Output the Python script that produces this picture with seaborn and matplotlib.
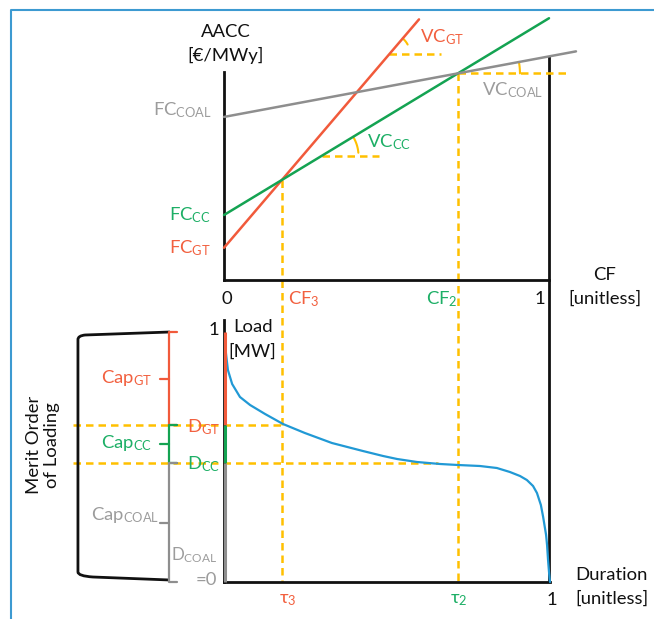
import numpy as np
import pandas as pd
import matplotlib
matplotlib.use("Agg")
import matplotlib.pyplot as plt
import seaborn as sns
from matplotlib.path import Path
from matplotlib.patches import PathPatch
from matplotlib.lines import Line2D

# ---------------- data ----------------
technologies = ["GT", "CC", "COAL"]
fixed_cost = [0.155, 0.3125, 0.784]      # AACC intercept (normalised units)
variable_cost = [1.83, 0.946, 0.291]      # slope of AACC vs CF
line_end_cf = [0.60, 1.00, 1.083]
vc_anchor_cf = [0.508, 0.30]              # where the VC triangles of GT and CC sit
vc_dash_len = [0.16, 0.178, 0.345]
vc_arc_radius_px = [21, 37, 62]
vc_arc_start_deg = [28, 5, 0]

ldc_duration = [0.004, 0.006, 0.012, 0.025, 0.049, 0.080, 0.126, 0.181, 0.248,
                0.331, 0.426, 0.488, 0.531, 0.592, 0.663, 0.718, 0.785, 0.837,
                0.877, 0.908, 0.929, 0.948, 0.960, 0.972, 0.979, 0.988, 0.991,
                0.994, 0.997, 1.000]
ldc_load = [0.952, 0.915, 0.848, 0.792, 0.740, 0.708, 0.672, 0.632, 0.596,
            0.556, 0.524, 0.504, 0.492, 0.480, 0.472, 0.468, 0.464, 0.456,
            0.440, 0.424, 0.408, 0.384, 0.356, 0.308, 0.260, 0.188, 0.148,
            0.088, 0.040, 0.000]
D_GT = 0.628
D_CC = 0.476

# ---------------- style ----------------
W, H = 654, 619
sns.set_style("white")
plt.rcParams["font.family"] = ["Lato", "DejaVu Sans"]
plt.rcParams["mathtext.default"] = "regular"
FS = 13.3

RED = "#F15A3B"
GREEN = "#14A352"
GREY = "#8E8E8E"
RED_T = "#F2603F"
GREEN_T = "#1DAF66"
GREY_T = "#9C9C9C"
ORANGE = "#FFC000"
BLUE = "#2199D5"
LINE_COLORS = [RED, GREEN, GREY]
DASH = (0, (3, 2))
LW = 1.8

fig = plt.figure(figsize=(W / 100, H / 100), dpi=100)
ax_top = fig.add_axes([224 / W, (H - 280) / H, 325 / W, 208 / H])
ax_bot = fig.add_axes([224 / W, (H - 582) / H, 326 / W, 262 / H])
ax_top.set_xlim(0, 1); ax_top.set_ylim(0, 1)
ax_bot.set_xlim(0, 1); ax_bot.set_ylim(0, 262 / 250)
for ax in (ax_top, ax_bot):
    ax.set_xticks([]); ax.set_yticks([])
    ax.patch.set_alpha(0)
    for s in ("top", "right"):
        ax.spines[s].set_visible(False)
    for s in ("left", "bottom"):
        ax.spines[s].set_color("#111111")
        ax.spines[s].set_linewidth(2.0)

# ---------------- top panel: AACC lines ----------------
fc = dict(zip(technologies, fixed_cost))
vc = dict(zip(technologies, variable_cost))
CF3 = (fc["CC"] - fc["GT"]) / (vc["GT"] - vc["CC"])
CF2 = (fc["COAL"] - fc["CC"]) / (vc["CC"] - vc["COAL"])
aacc3 = fc["CC"] + vc["CC"] * CF3
aacc2 = fc["CC"] + vc["CC"] * CF2

rows = []
for t, f, v, e in zip(technologies, fixed_cost, variable_cost, line_end_cf):
    for cf in (0.0, e):
        rows.append({"tech": t, "CF": cf, "AACC": f + v * cf})
df_lines = pd.DataFrame(rows)
sns.lineplot(data=df_lines, x="CF", y="AACC", hue="tech", palette=dict(zip(technologies, LINE_COLORS)),
             hue_order=technologies, ax=ax_top, lw=LW, legend=False, estimator=None,
             clip_on=False, zorder=3)

# y of bottom-panel zero expressed in top-panel data coords
fig.canvas.draw()
y_bottom_in_top = ax_top.transData.inverted().transform(ax_bot.transData.transform((0, 0)))[1]

# right border at CF = 1
ax_top.plot([1, 1], [fc["COAL"] + vc["COAL"], y_bottom_in_top], color="#111111", lw=2.0,
            clip_on=False, zorder=2, solid_capstyle="butt")
# vertical dashed lines CF3 / CF2 through both panels
ax_top.plot([CF3, CF3], [aacc3, y_bottom_in_top], color=ORANGE, lw=LW, ls=DASH, clip_on=False, zorder=1)
ax_top.plot([CF2, CF2], [aacc2, y_bottom_in_top], color=ORANGE, lw=LW, ls=DASH, clip_on=False, zorder=1)

# VC triangles (horizontal dash + arc)
sx = ax_top.bbox.width / 1.0
sy = ax_top.bbox.height / 1.0
anchors = [(vc_anchor_cf[0], fc["GT"] + vc["GT"] * vc_anchor_cf[0]),
           (vc_anchor_cf[1], fc["CC"] + vc["CC"] * vc_anchor_cf[1]),
           (CF2, aacc2)]
for (x0, y0), t, L, r, a0 in zip(anchors, technologies, vc_dash_len, vc_arc_radius_px, vc_arc_start_deg):
    ax_top.plot([x0, x0 + L], [y0, y0], color=ORANGE, lw=LW, ls=DASH, clip_on=False, zorder=2)
    theta = np.degrees(np.arctan(vc[t] * sy / sx))
    ang = np.radians(np.linspace(a0, theta, 30))
    ax_top.plot(x0 + r * np.cos(ang) / sx, y0 + r * np.sin(ang) / sy, color=ORANGE, lw=1.5,
                clip_on=False, zorder=2)

# ---------------- bottom panel: load duration curve ----------------
df_ldc = pd.DataFrame({"duration": ldc_duration, "load": ldc_load})
sns.lineplot(data=df_ldc, x="duration", y="load", color=BLUE, lw=1.6, ax=ax_bot,
             estimator=None, sort=False, clip_on=False, zorder=3)

# horizontal dashed at demand levels
BX_DASH0 = -0.463
ax_bot.plot([BX_DASH0, CF3], [D_GT, D_GT], color=ORANGE, lw=LW, ls=DASH, clip_on=False, zorder=1)
ax_bot.plot([BX_DASH0, 0.656], [D_CC, D_CC], color=ORANGE, lw=LW, ls=DASH, clip_on=False, zorder=1)

# coloured overlay on load axis
segs = [(1.0, D_GT, RED), (D_GT, D_CC, GREEN), (D_CC, 0.0, GREY)]
for top, bot, c in segs:
    ax_bot.plot([0.004, 0.004], [top, bot], color=c, lw=2.2, clip_on=False, zorder=4,
                solid_capstyle="butt")

# merit-order bracket
BX = -0.170
BX_TICK_R = -0.144
BX_TICK_L = -0.196
for top, bot, c in segs:
    ax_bot.plot([BX, BX], [top, bot], color=c, lw=1.6, clip_on=False, solid_capstyle="butt")
    ax_bot.plot([BX, BX_TICK_R], [top, top], color=c, lw=1.6, clip_on=False)
    ax_bot.plot([BX, BX_TICK_R], [bot, bot], color=c, lw=1.6, clip_on=False)
    mid = (top + bot) / 2
    ax_bot.plot([BX_TICK_L, BX], [mid, mid], color=c, lw=1.6, clip_on=False)

BL = -0.448
verts = [(-0.166, 1.0), (-0.426, 0.988), (BL, 0.985), (BL, 0.970),
         (BL, 0.040), (BL, 0.024), (-0.402, 0.020), (-0.166, 0.008)]
codes = [Path.MOVETO, Path.LINETO, Path.CURVE3, Path.CURVE3,
         Path.LINETO, Path.CURVE3, Path.CURVE3, Path.LINETO]
ax_bot.add_patch(PathPatch(Path(verts, codes), fill=False, ec="#111111", lw=2.0, clip_on=False))

# ---------------- texts ----------------
def T(x, y, s, color="#111111", ha="left", va="baseline", fs=FS, **kw):
    fig.text(x / W, 1 - y / H, s, color=color, ha=ha, va=va, fontsize=fs, **kw)

T(226, 37, "AACC", ha="center")
T(226, 61, "[€/MWy]", ha="center")
T(212, 115, r"FC$_\mathregular{COAL}$", GREY_T, ha="right")
T(211, 220, r"FC$_\mathregular{CC}$", GREEN_T, ha="right")
T(211, 253, r"FC$_\mathregular{GT}$", RED_T, ha="right")
T(227, 304, "0", ha="center")
T(288, 304, r"CF$_\mathregular{3}$", RED_T)
T(426, 304, r"CF$_\mathregular{2}$", GREEN_T)
T(540, 304, "1", ha="center")
T(605, 280, "CF", ha="center")
T(605, 304, "[unitless]", ha="center")
T(420, 42, r"VC$_\mathregular{GT}$", RED_T)
T(482, 95, r"VC$_\mathregular{COAL}$", GREY_T)
T(367, 147, r"VC$_\mathregular{CC}$", GREEN_T)

T(253, 332, "Load", ha="center")
T(252, 357, "[MW]", ha="center")
T(214, 335, "1", ha="center")
T(152, 383, r"Cap$_\mathregular{GT}$", RED_T, ha="right")
T(152, 448, r"Cap$_\mathregular{CC}$", GREEN_T, ha="right")
T(159, 520, r"Cap$_\mathregular{COAL}$", GREY_T, ha="right")
T(187, 432, r"D$_\mathregular{GT}$", RED_T)
T(187, 469, r"D$_\mathregular{CC}$", GREEN_T)
T(217, 560, r"D$_\mathregular{COAL}$", GREY_T, ha="right", fs=12.2)
T(217, 585, "=0", GREY_T, ha="right")
fig.text(43 / W, 1 - 445 / H, "Merit Order\nof Loading", rotation=90, ha="center", va="center",
         multialignment="center", fontsize=FS, color="#111111")
T(279, 603, r"τ$_\mathregular{3}$", RED_T)
T(450, 603, r"τ$_\mathregular{2}$", GREEN_T)
T(552, 605, "1", ha="center")
T(611, 580, "Duration", ha="center")
T(612, 604, "[unitless]", ha="center")

# frame lines of the original slide
fig.add_artist(Line2D([11 / W, 11 / W, 1.0], [0.0, 1 - 10 / H, 1 - 10 / H], color="#3D9AD1",
                      lw=1.5, transform=fig.transFigure))

fig.savefig("out.png", dpi=100)
